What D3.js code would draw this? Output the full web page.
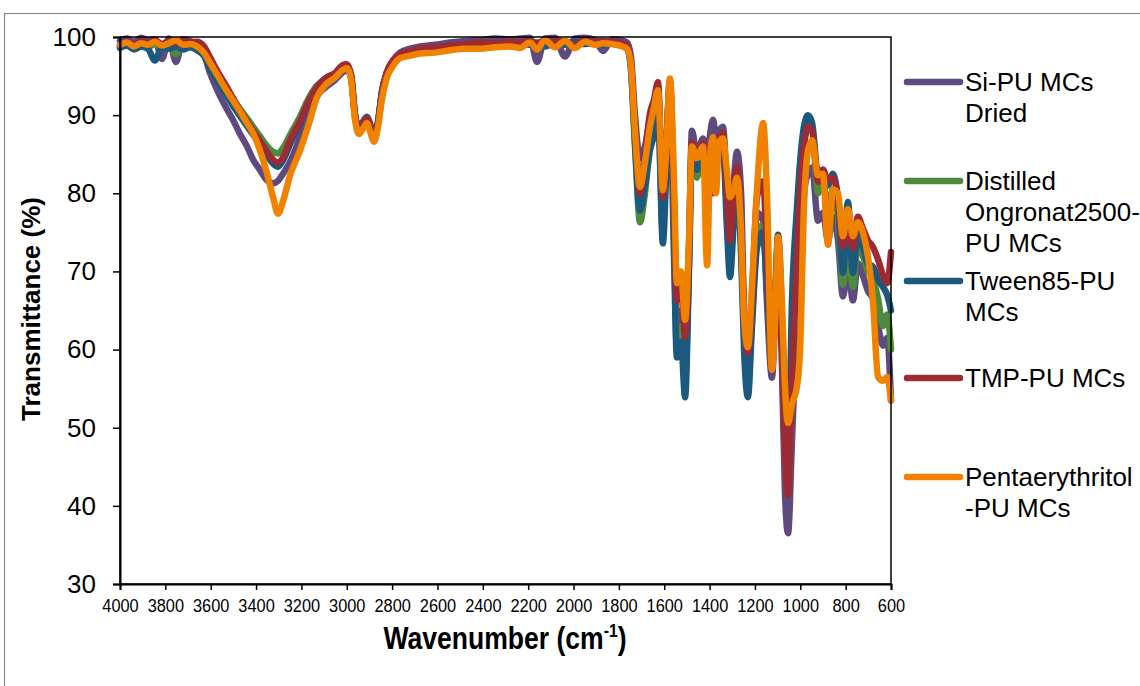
<!DOCTYPE html>
<html>
<head>
<meta charset="utf-8">
<script src="https://cdn.jsdelivr.net/npm/d3@7/dist/d3.min.js"></script>
<style>
  html, body { margin: 0; padding: 0; background: #ffffff; }
  svg { display: block; font-family: "Liberation Sans", Arial, sans-serif; }
</style>
</head>
<body>
<svg id="chart" width="1140" height="686"></svg>
<script>
// FTIR spectra of the polyurethane microcapsules (wavenumber in cm-1, transmittance in %)
const wavenumbers = [
  4000, 3969, 3938, 3907, 3877, 3846, 3815, 3784, 3753, 3722, 3691, 3660, 3630, 3603, 3568, 3533,
  3502, 3471, 3440, 3413, 3383, 3356, 3325, 3303, 3281, 3250, 3206, 3171, 3131, 3096, 3052, 3017,
  3000, 2981, 2964, 2946, 2928, 2911, 2898, 2880, 2862, 2845, 2823, 2796, 2765, 2721, 2677, 2611,
  2545, 2479, 2412, 2346, 2280, 2236, 2192, 2161, 2126, 2082, 2038, 1994, 1949, 1905, 1870, 1830,
  1795, 1764, 1747, 1729, 1707, 1685, 1663, 1645, 1628, 1606, 1592, 1575, 1557, 1544, 1526, 1508,
  1491, 1478, 1456, 1429, 1411, 1398, 1385, 1372, 1359, 1341, 1324, 1310, 1292, 1279, 1261, 1248,
  1231, 1213, 1191, 1164, 1147, 1125, 1112, 1098, 1081, 1068, 1054, 1037, 1015, 1001, 984, 966,
  948, 922, 900, 878, 856, 834, 812, 790, 768, 746, 724, 702, 679, 657, 635, 617, 600
];

const siPuDried = [
  99.5, 99.8, 99.4, 99.9, 99.6, 99.7, 97.2, 99.8, 96.8, 99.7, 99.5, 99.0, 97.8, 95.4, 93.0, 91.0,
  89.4, 87.6, 86.0, 84.3, 83.0, 81.8, 81.3, 81.6, 82.5, 84.0, 87.2, 90.0, 92.5, 93.5, 94.5, 95.5,
  95.8, 94.8, 90.0, 88.2, 88.6, 89.2, 88.5, 87.0, 89.0, 93.0, 95.5, 97.0, 98.0, 98.5, 98.8, 99.0,
  99.3, 99.5, 99.6, 99.8, 99.7, 99.8, 99.9, 96.8, 99.8, 99.9, 97.5, 99.8, 99.9, 99.6, 98.2, 99.7,
  99.6, 99.3, 97.5, 90.0, 84.5, 86.0, 89.5, 91.5, 93.8, 78.5, 85.0, 94.3, 78.0, 62.0, 65.0, 57.5,
  72.0, 88.0, 85.0, 87.0, 84.0, 87.5, 89.4, 87.5, 88.0, 88.5, 80.0, 72.0, 82.0, 85.3, 80.0, 64.0,
  57.0, 66.0, 77.5, 76.5, 66.0, 56.4, 63.5, 73.0, 58.0, 42.0, 36.5, 48.0, 64.0, 72.0, 80.0, 82.5,
  83.3, 76.5, 77.5, 74.0, 77.0, 74.0, 66.8, 70.5, 66.3, 71.0, 69.5, 67.5, 66.5, 63.0, 60.5, 61.5, 53.5
];

const distilledOngronat = [
  98.8, 99.1, 98.6, 99.0, 98.7, 99.1, 98.6, 98.9, 97.8, 99.0, 98.8, 98.6, 98.0, 96.8, 95.0, 93.5,
  92.0, 90.8, 89.6, 88.5, 87.3, 86.2, 85.3, 85.1, 85.8, 87.5, 89.8, 92.0, 93.8, 94.6, 95.3, 96.0,
  96.1, 95.0, 90.0, 88.2, 88.8, 89.3, 88.5, 87.0, 89.0, 92.8, 95.3, 96.8, 97.6, 98.0, 98.3, 98.5,
  98.7, 98.9, 99.0, 99.1, 99.0, 99.2, 99.1, 98.6, 99.4, 98.9, 99.2, 99.0, 99.3, 99.1, 99.0, 99.2,
  99.0, 98.6, 96.0, 86.0, 76.3, 80.0, 86.0, 89.0, 91.0, 75.0, 84.0, 93.8, 75.0, 60.0, 63.0, 56.0,
  71.0, 85.0, 82.0, 85.5, 82.5, 85.5, 86.5, 85.0, 86.0, 86.5, 78.0, 71.0, 78.0, 81.0, 74.0, 62.0,
  56.0, 64.0, 74.0, 76.0, 68.0, 58.0, 65.0, 73.5, 62.0, 47.0, 41.6, 55.0, 72.0, 80.0, 86.0, 89.0,
  88.5, 80.0, 81.5, 78.0, 80.5, 77.0, 68.3, 74.0, 68.0, 73.5, 72.0, 70.0, 69.0, 66.5, 63.0, 64.5, 60.0
];

const tween85 = [
  98.6, 98.9, 98.4, 98.8, 98.5, 97.0, 98.7, 98.5, 98.8, 98.4, 98.7, 98.3, 97.6, 96.0, 94.3, 92.7,
  91.2, 89.9, 88.6, 87.5, 86.2, 85.0, 83.8, 83.4, 84.2, 86.3, 89.0, 91.4, 93.3, 94.3, 95.1, 95.8,
  96.0, 95.0, 90.0, 88.4, 89.2, 89.8, 89.0, 87.3, 89.3, 93.0, 95.5, 96.9, 97.7, 98.1, 98.4, 98.6,
  98.8, 98.5, 99.1, 99.0, 99.2, 99.1, 99.0, 99.3, 98.8, 99.2, 99.0, 99.3, 99.1, 99.2, 99.0, 99.3,
  99.0, 98.5, 96.0, 86.5, 77.8, 81.0, 85.5, 87.5, 91.0, 73.6, 82.0, 93.8, 72.0, 59.0, 61.0, 53.9,
  70.0, 85.0, 83.0, 85.0, 82.0, 85.0, 86.0, 84.0, 85.5, 86.0, 76.0, 69.3, 77.0, 81.0, 72.0, 60.0,
  53.9, 63.0, 73.0, 75.0, 68.0, 58.5, 66.0, 74.7, 64.0, 50.0, 44.5, 66.0, 78.0, 84.0, 88.5, 90.0,
  89.0, 82.5, 83.0, 81.0, 82.5, 79.0, 69.8, 78.9, 69.8, 75.0, 73.0, 71.0, 70.6, 69.0, 68.0, 67.0, 65.0
];

const tmp = [
  99.0, 99.4, 99.0, 99.5, 99.2, 99.6, 99.1, 99.5, 99.2, 99.6, 99.3, 99.4, 98.8, 97.4, 95.5, 93.8,
  92.2, 90.6, 89.2, 88.0, 86.7, 85.5, 84.3, 83.9, 84.6, 86.8, 89.2, 91.6, 93.6, 94.7, 95.4, 96.4,
  96.5, 95.2, 90.2, 88.3, 89.0, 89.6, 88.8, 87.0, 89.0, 92.8, 95.5, 97.0, 97.8, 98.2, 98.5, 98.7,
  98.9, 99.1, 99.3, 99.2, 99.4, 99.3, 99.5, 99.2, 99.6, 99.4, 99.5, 98.9, 99.6, 99.4, 99.5, 99.4,
  99.3, 98.9, 96.8, 88.5, 80.0, 85.0, 90.2, 92.0, 94.2, 79.5, 85.5, 94.3, 78.0, 66.3, 68.0, 61.6,
  73.0, 86.5, 84.5, 86.5, 84.0, 86.0, 80.0, 86.5, 87.0, 87.7, 80.0, 74.0, 80.5, 83.4, 76.0, 65.0,
  59.6, 67.0, 79.5, 81.5, 72.0, 58.0, 65.0, 74.0, 60.0, 47.0, 41.4, 56.0, 72.0, 80.0, 86.0, 88.5,
  88.0, 81.5, 83.0, 81.7, 82.0, 79.5, 73.2, 76.5, 73.0, 77.0, 75.5, 74.0, 73.1, 71.5, 69.5, 68.5, 72.5
];

const pentaerythritol = [
  99.0, 99.3, 98.8, 99.2, 99.0, 99.4, 98.9, 99.2, 99.6, 99.0, 99.1, 98.8, 98.0, 96.7, 95.0, 93.3,
  91.9, 90.5, 89.0, 87.7, 85.5, 83.0, 79.5, 77.4, 79.0, 82.3, 85.5, 88.5, 92.3, 93.8, 94.8, 95.8,
  96.0, 94.5, 89.5, 87.6, 88.3, 89.0, 88.0, 86.6, 88.5, 92.0, 94.8, 96.3, 97.3, 97.6, 97.9, 98.0,
  98.3, 98.5, 98.5, 98.7, 98.8, 98.6, 99.3, 98.4, 99.6, 98.7, 99.5, 98.6, 99.4, 99.0, 99.2, 99.1,
  98.9, 98.5, 96.5, 88.0, 80.8, 84.0, 88.5, 91.0, 93.2, 80.4, 85.0, 94.7, 82.0, 68.5, 70.0, 63.8,
  74.0, 86.0, 84.5, 86.0, 70.8, 84.5, 87.2, 80.0, 86.5, 87.0, 83.0, 79.5, 80.5, 82.0, 75.0, 64.0,
  60.3, 68.0, 80.5, 89.0, 80.0, 57.4, 63.0, 74.4, 66.0, 55.5, 50.6, 53.0, 55.2, 60.0, 78.0, 85.5,
  86.8, 82.3, 82.5, 73.4, 80.5, 80.0, 74.5, 78.0, 74.5, 76.3, 75.0, 72.0, 66.0, 56.5, 56.0, 56.5, 53.5
];

const seriesNames = [
  ["Si-PU MCs", "Dried"],
  ["Distilled", "Ongronat2500-", "PU MCs"],
  ["Tween85-PU", "MCs"],
  ["TMP-PU MCs"],
  ["Pentaerythritol", "-PU MCs"]
];
const seriesValues = [siPuDried, distilledOngronat, tween85, tmp, pentaerythritol];
const seriesColors = ["#5e4a7e", "#4e8a3e", "#1b5a7e", "#9e2a36", "#f08200"];

const xTicks = d3.range(4000, 599, -200);
const yTicks = d3.range(30, 101, 10);

const svg = d3.select("#chart");
const plot = { left: 120, right: 891, top: 37, bottom: 584 };

const x = d3.scaleLinear().domain([4000, 600]).range([plot.left, plot.right]);
const y = d3.scaleLinear().domain([30, 100]).range([plot.bottom, plot.top]);

// outer chart-area frame
svg.append("rect")
  .attr("x", 4.5).attr("y", 13.5)
  .attr("width", 1200).attr("height", 800)
  .attr("fill", "none").attr("stroke", "#8c8c8c").attr("stroke-width", 1.2);

// spectra, first series drawn at the bottom
const line = d3.line()
  .x((d, i) => x(wavenumbers[i]))
  .y(d => y(d))
  .curve(d3.curveMonotoneX);

svg.append("g").selectAll("path")
  .data(seriesValues)
  .join("path")
  .attr("d", d => line(d))
  .attr("fill", "none")
  .attr("stroke", (d, i) => seriesColors[i])
  .attr("stroke-width", 6.5)
  .attr("stroke-linejoin", "round")
  .attr("stroke-linecap", "round");

// plot frame
svg.append("rect")
  .attr("x", plot.left).attr("y", plot.top)
  .attr("width", plot.right - plot.left).attr("height", plot.bottom - plot.top)
  .attr("fill", "none").attr("stroke", "#000").attr("stroke-width", 1.5);

// x axis (condensed tick labels)
const xAxis = svg.append("g")
  .attr("transform", `translate(0,${plot.bottom})`)
  .attr("font-size", 18)
  .attr("font-family", "'Liberation Sans', Arial, sans-serif")
  .call(d3.axisBottom(x).tickValues(xTicks).tickSize(6).tickPadding(9).tickFormat(d3.format("d")));
xAxis.select(".domain").attr("stroke", "#000").attr("stroke-width", 2);
xAxis.selectAll(".tick line").attr("stroke", "#000").attr("stroke-width", 1.5);
xAxis.selectAll(".tick text")
  .attr("font-size", 18)
  .attr("fill", "#000")
  .attr("textLength", d => String(d).length * 9.1)
  .attr("lengthAdjust", "spacingAndGlyphs");

// y axis
const yAxis = svg.append("g")
  .attr("transform", `translate(${plot.left},0)`)
  .call(d3.axisLeft(y).tickValues(yTicks).tickSize(7).tickPadding(17).tickFormat(d3.format("d")));
yAxis.select(".domain").attr("stroke", "#000").attr("stroke-width", 2);
yAxis.selectAll(".tick line").attr("stroke", "#000").attr("stroke-width", 1.5);
yAxis.selectAll(".tick text")
  .style("font-size", "26px")
  .style("font-family", "'Liberation Sans', Arial, sans-serif")
  .attr("fill", "#000");

// axis titles
const xTitle = svg.append("text")
  .attr("transform", "translate(505,649) scale(0.83,1)")
  .attr("text-anchor", "middle")
  .attr("font-size", 32)
  .attr("font-weight", "bold")
  .attr("fill", "#000");
xTitle.append("tspan").text("Wavenumber (cm");
xTitle.append("tspan").attr("font-size", 19).attr("dy", -12).text("-1");
xTitle.append("tspan").attr("dy", 12).text(")");

svg.append("text")
  .attr("transform", "translate(40,309) rotate(-90)")
  .attr("text-anchor", "middle")
  .attr("font-size", 26)
  .attr("font-weight", "bold")
  .attr("fill", "#000")
  .text("Transmittance (%)");

// legend
const legendRows = [82, 181, 281, 378, 477];
const legend = svg.append("g");
seriesNames.forEach((lines, i) => {
  const cy = legendRows[i];
  legend.append("line")
    .attr("x1", 907).attr("x2", 960)
    .attr("y1", cy).attr("y2", cy)
    .attr("stroke", seriesColors[i])
    .attr("stroke-width", 6.5)
    .attr("stroke-linecap", "round");
  lines.forEach((t, j) => {
    legend.append("text")
      .attr("x", 965)
      .attr("y", cy + 9.3 + j * 30.7)
      .attr("font-size", 26)
      .attr("fill", "#000")
      .text(t);
  });
});
</script>
</body>
</html>
